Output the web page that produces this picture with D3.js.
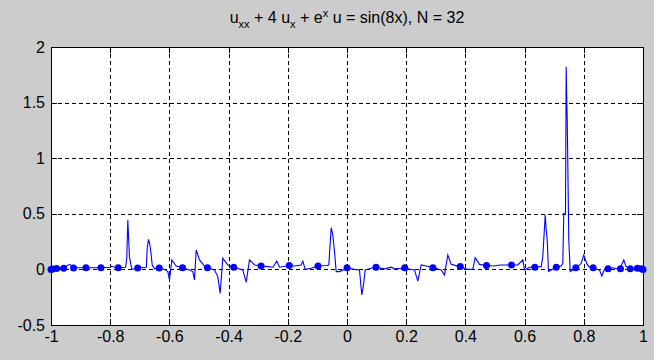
<!DOCTYPE html>
<html><head><meta charset="utf-8">
<script src="https://cdn.jsdelivr.net/npm/d3@7"></script>
<style>
html,body{margin:0;padding:0;background:#cccccc;}
svg{display:block;}
text{font-family:"Liberation Sans",Arial,sans-serif;fill:#000;}
</style></head><body>
<svg id="c" width="654" height="360"></svg>
<script>
// Chebyshev nodes (N = 32) and computed values
const nodeX = [1, 0.99518, 0.98079, 0.95694, 0.92388, 0.88192, 0.83147, 0.77301, 0.70711, 0.63439, 0.55557, 0.47140, 0.38268, 0.29028, 0.19509, 0.09802, 0,
  -0.09802, -0.19509, -0.29028, -0.38268, -0.47140, -0.55557, -0.63439, -0.70711, -0.77301, -0.83147, -0.88192, -0.92388, -0.95694, -0.98079, -0.99518, -1];
const nodeY = [0, 0.005, 0.01, 0.005, 0.005, 0.005, 0.015, 0.015, 0.02, 0.02, 0.04, 0.035, 0.025, 0.015, 0.015, 0.02, 0.015,
  0.03, 0.035, 0.03, 0.02, 0.015, 0.015, 0.012, 0.012, 0.015, 0.015, 0.015, 0.012, 0.01, 0.008, 0.004, 0];

// Fine-grid curve
const curveX = [-1, -0.98, -0.955, -0.937, -0.92, -0.833, -0.80, -0.795, -0.785, -0.775, -0.748, -0.744, -0.7405, -0.735, -0.727, -0.704,
  -0.678, -0.675, -0.6706, -0.6662, -0.6615, -0.6581, -0.6503, -0.6334, -0.6166, -0.6054, -0.5997, -0.5919, -0.577, -0.5547,
  -0.5321, -0.5209, -0.5152, -0.5095, -0.4983, -0.4814, -0.4703, -0.4476, -0.4365, -0.4284, -0.4196, -0.4027, -0.3824,
  -0.352, -0.3405, -0.3294, -0.3125, -0.2899, -0.2676, -0.2507, -0.2372, -0.228, -0.196,
  -0.1774, -0.1547, -0.1493, -0.1412, -0.1209, -0.0986, -0.0703, -0.0615, -0.0534, -0.048, -0.0422, -0.0365, -0.0253,
  0.0007, 0.0253, 0.0422, 0.05, 0.0557, 0.0615, 0.0818, 0.0953, 0.1267, 0.1493, 0.1605, 0.1943,
  0.228, 0.2392, 0.2507, 0.2676, 0.2932, 0.3182, 0.3294, 0.3405, 0.352, 0.3801, 0.4081, 0.425, 0.4331, 0.4476,
  0.4703, 0.4983, 0.5152, 0.5547, 0.577, 0.5939, 0.5997, 0.6166,
  0.6358, 0.6561, 0.6615, 0.6696, 0.673, 0.6764, 0.6807, 0.6899, 0.7068, 0.7236, 0.7291, 0.7324, 0.7382, 0.7405,
  0.7426, 0.7439, 0.7493, 0.7541, 0.7628, 0.7743, 0.7912, 0.8, 0.8057, 0.8115, 0.8169, 0.8304, 0.853, 0.8608,
  0.8699, 0.8791, 0.898, 0.9206, 0.9351, 0.9432, 0.9578, 0.98, 1];
const curveY = [0, 0.012, 0.02, 0.046, 0.015, 0.015, 0.02, 0.028, 0.02, 0.015, 0.02, 0.1, 0.444, 0.114, 0.0, 0.012,
  0.02, 0.19, 0.27, 0.226, 0.13, 0.04, 0.005, 0.012, 0.0, -0.02, -0.095, 0.085, 0.03, 0.015,
  -0.005, -0.02, -0.095, 0.175, 0.085, 0.03, 0.015, -0.005, -0.065, -0.215, 0.10, 0.04, 0.02,
  -0.005, -0.116, 0.085, 0.04, 0.03, 0.025, 0.02, 0.075, 0.02, 0.035,
  0.03, 0.04, 0.075, 0.0, 0.01, 0.03, 0.035, 0.04, 0.375, 0.31, 0.16, -0.02, -0.02,
  0.01, 0.0, -0.005, -0.23, -0.14, -0.005, 0.01, 0.02, 0.005, 0.02, 0.005, 0.01,
  -0.005, -0.105, 0.04, 0.03, 0.015, -0.005, -0.05, 0.13, 0.045, 0.025, 0.0, 0.0, 0.105, 0.045,
  0.035, 0.03, 0.04, 0.04, 0.04, 0.085, -0.005, 0.02,
  0.02, 0.025, 0.115, 0.49, 0.355, 0.265, -0.02, -0.005, 0.02, 0.03, 0.055, 0.505, 0.505, 1.823,
  1.494, 1.373, 0.265, -0.02, -0.005, 0.01, 0.055, 0.13, 0.085, 0.045, 0.025, 0.01, -0.005, -0.06,
  0.0, 0.0, 0.015, 0.0, 0.085, 0.025, 0.0, 0.01, 0];

const xTicks = [-1, -0.8, -0.6, -0.4, -0.2, 0, 0.2, 0.4, 0.6, 0.8, 1];
const xTickLabels = ["-1", "-0.8", "-0.6", "-0.4", "-0.2", "0", "0.2", "0.4", "0.6", "0.8", "1"];
const yTicks = [-0.5, 0, 0.5, 1, 1.5, 2];
const yTickLabels = ["-0.5", "0", "0.5", "1", "1.5", "2"];

const L = 51, R = 643, T = 47, B = 325;
const FONT = "Liberation Sans, Arial, sans-serif";
const svg = d3.select("#c");
svg.append("rect").attr("width", 654).attr("height", 360).attr("fill", "#cccccc");

const x = d3.scaleLinear().domain([-1, 1]).range([L, R]);
const y = d3.scaleLinear().domain([-0.5, 2]).range([B, T]);

svg.append("rect").attr("x", L).attr("y", T).attr("width", R - L).attr("height", B - T).attr("fill", "#fff");

// grid
const g = svg.append("g").attr("shape-rendering", "crispEdges");
g.selectAll(".gx").data(xTicks.slice(1, -1)).join("line")
  .attr("x1", d => Math.round(x(d)) + 0.5).attr("x2", d => Math.round(x(d)) + 0.5)
  .attr("y1", T).attr("y2", B).attr("stroke", "#000").attr("stroke-dasharray", "4,3");
g.selectAll(".gy").data(yTicks.slice(1, -1)).join("line")
  .attr("y1", d => Math.round(y(d)) + 0.5).attr("y2", d => Math.round(y(d)) + 0.5)
  .attr("x1", L).attr("x2", R).attr("stroke", "#000").attr("stroke-dasharray", "4,3");

// axes with inward ticks
const tl = 6;
svg.append("g").attr("transform", `translate(0,${B})`)
  .call(d3.axisBottom(x).tickValues(xTicks).tickSize(-tl).tickPadding(6).tickFormat((d, i) => xTickLabels[i]))
  .call(a => { a.select(".domain").remove(); a.selectAll("text").style("font-size", "16px").style("font-family", FONT); });
svg.append("g").attr("transform", `translate(0,${T})`)
  .call(d3.axisTop(x).tickValues(xTicks).tickSize(-tl).tickFormat(""))
  .call(a => a.select(".domain").remove());
svg.append("g").attr("transform", `translate(${L},0)`)
  .call(d3.axisLeft(y).tickValues(yTicks).tickSize(-tl).tickPadding(6).tickFormat((d, i) => yTickLabels[i]))
  .call(a => { a.select(".domain").remove(); a.selectAll("text").style("font-size", "16px").style("font-family", FONT); });
svg.append("g").attr("transform", `translate(${R},0)`)
  .call(d3.axisRight(y).tickValues(yTicks).tickSize(-tl).tickFormat(""))
  .call(a => a.select(".domain").remove());
svg.selectAll(".tick line").attr("shape-rendering", "crispEdges");

svg.append("rect").attr("x", L + 0.5).attr("y", T + 0.5).attr("width", R - L).attr("height", B - T)
  .attr("fill", "none").attr("stroke", "#000").attr("shape-rendering", "crispEdges");

// clip
svg.append("clipPath").attr("id", "clip").append("rect").attr("x", L).attr("y", T).attr("width", R - L).attr("height", B - T);

const curve = curveX.map((d, i) => [d, curveY[i]]);
const line = d3.line().x(d => x(d[0])).y(d => y(d[1]));
svg.append("path").datum(curve).attr("d", line).attr("fill", "none")
  .attr("stroke", "#0000ff").attr("stroke-width", 1.1).attr("clip-path", "url(#clip)");

const nodes = nodeX.map((d, i) => [d, nodeY[i]]);
svg.append("g").selectAll("circle").data(nodes).join("circle")
  .attr("cx", d => x(d[0])).attr("cy", d => y(d[1])).attr("r", 3.5).attr("fill", "#0000ff");

// title
const t = svg.append("text").attr("x", (L + R) / 2).attr("y", 23).attr("text-anchor", "middle").style("font-size", "16px");
t.append("tspan").text("u");
t.append("tspan").style("font-size", "11px").attr("dy", 5).text("xx");
t.append("tspan").attr("dy", -5).text(" + 4 u");
t.append("tspan").style("font-size", "11px").attr("dy", 5).text("x");
t.append("tspan").attr("dy", -5).text(" + e");
t.append("tspan").style("font-size", "11px").attr("dy", -6).text("x");
t.append("tspan").attr("dy", 6).text(" u = sin(8x), N = 32");
</script>
</body></html>
